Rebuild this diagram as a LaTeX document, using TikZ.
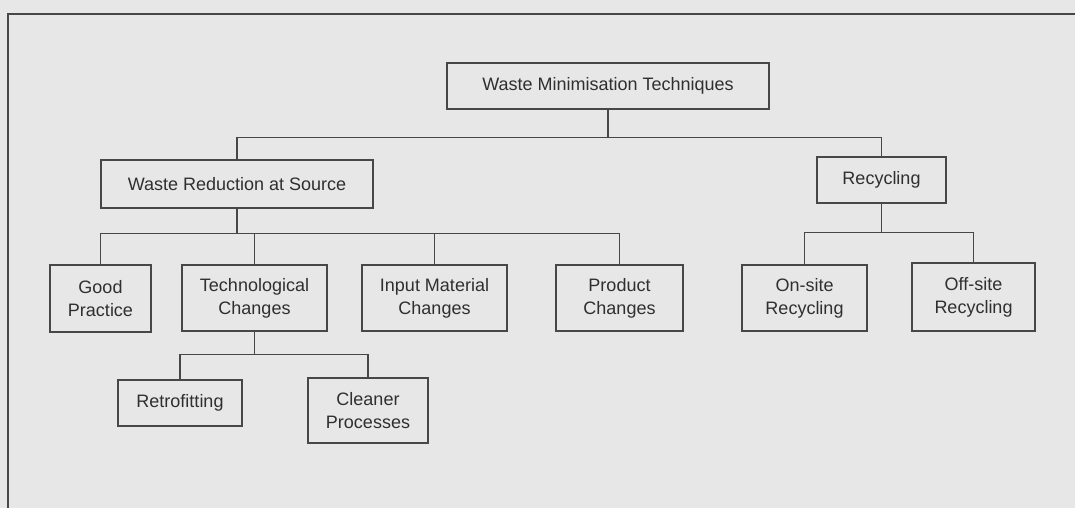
\documentclass[tikz,border=0pt]{standalone}
\usepackage{fontspec}
\setmainfont{Liberation Sans}
\definecolor{paper}{HTML}{E7E7E7}
\definecolor{ink}{HTML}{474747}
\definecolor{txt}{HTML}{2F2F2F}
\begin{document}
\begin{tikzpicture}[x=1pt,y=-1pt,
  box/.style={draw=ink, line width=1.3pt, rectangle, inner sep=0pt,
    text=txt, align=center, font=\fontsize{18}{23}\selectfont},
  link/.style={draw=ink, line width=1.6pt}]
  % page background and frame (top and left edges)
  \fill[paper] (0,0) rectangle (1075,508);
  \useasboundingbox (0,0) rectangle (1075,508);
  \draw[ink, line width=1.3pt] (8,508) -- (8,14) -- (1075,14);

  % level 0
  \node[box, minimum width=322pt, minimum height=46pt] (top) at (608,86) {Waste Minimisation Techniques};
  % level 1
  \node[box, minimum width=272pt, minimum height=48pt] (wrs) at (237,184) {Waste Reduction at Source};
  \node[box, minimum width=129pt, minimum height=46pt] (rec) at (881.5,180) {Recycling};
  % level 2
  \node[box, minimum width=101pt, minimum height=67pt] (good) at (100.5,298.5) {Good\\Practice};
  \node[box, minimum width=145pt, minimum height=66pt] (tech) at (254.5,298) {Technological\\Changes};
  \node[box, minimum width=145pt, minimum height=66pt] (input) at (434.5,298) {Input Material\\Changes};
  \node[box, minimum width=127pt, minimum height=66pt] (prod) at (619.5,298) {Product\\Changes};
  \node[box, minimum width=125pt, minimum height=66pt] (onsite) at (804.5,298) {On-site\\Recycling};
  \node[box, minimum width=123pt, minimum height=68pt] (offsite) at (973.5,297) {Off-site\\Recycling};
  % level 3
  \node[box, minimum width=124pt, minimum height=46pt] (retro) at (180,403) {Retrofitting};
  \node[box, minimum width=120pt, minimum height=65pt] (clean) at (368,410.5) {Cleaner\\Processes};

  % connectors
  \path (top.south) ++(0,28) coordinate (b0);
  \draw[link] (top.south) -- (b0);
  \draw[link] (wrs.north) |- (b0) -| (rec.north);

  \path (wrs.south) ++(0,25) coordinate (b1);
  \draw[link] (wrs.south) -- (b1);
  \draw[link] (good.north) |- (b1) -| (prod.north);
  \draw[link] (tech.north) -- (tech.north |- b1);
  \draw[link] (input.north) -- (input.north |- b1);

  \path (rec.south) ++(0,29) coordinate (b2);
  \draw[link] (rec.south) -- (b2);
  \draw[link] (onsite.north) |- (b2) -| (offsite.north);

  \path (tech.south) ++(0,23) coordinate (b3);
  \draw[link] (tech.south) -- (b3);
  \draw[link] (retro.north) |- (b3) -| (clean.north);
\end{tikzpicture}
\end{document}
